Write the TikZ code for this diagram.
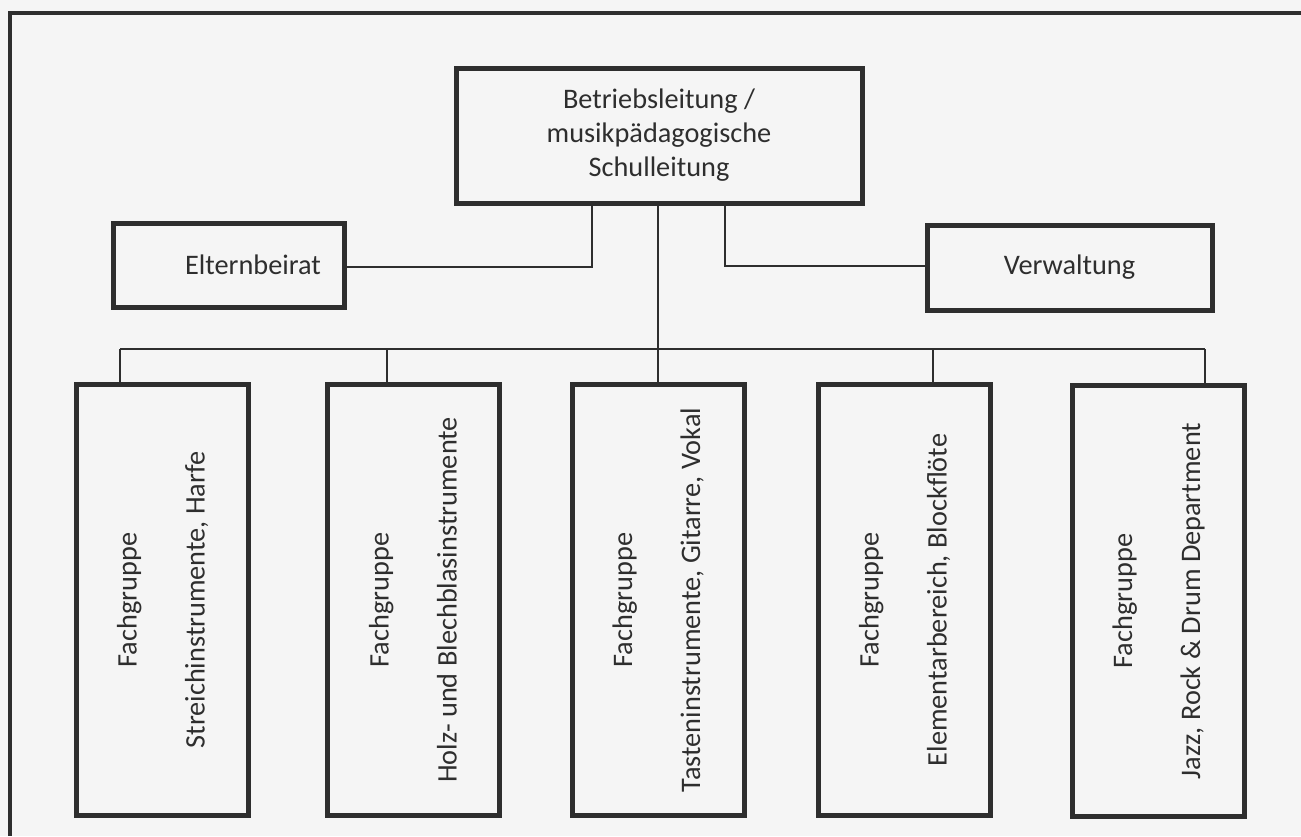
\documentclass[tikz,border=0pt]{standalone}
\usepackage{fontspec}
\setmainfont{Carlito}
\definecolor{ink}{HTML}{2E2E2E}
\definecolor{paper}{HTML}{F5F5F5}
\begin{document}
\begin{tikzpicture}[x=1pt,y=1pt,
  box/.style={draw=ink, line width=5pt, rectangle, inner sep=0pt, text=ink,
    font=\fontsize{28.3}{34}\selectfont, align=center},
  vbox/.style={box, rotate=90, minimum width=431pt, minimum height=172pt},
  conn/.style={draw=ink, line width=2pt}]
\fill[paper] (0,0) rectangle (1301,-836);
\useasboundingbox (0,0) rectangle (1301,-836);
% frame (cropped)
\coordinate (fTR) at (1301,-13);
\coordinate (fTL) at (10,-13);
\coordinate (fBL) at (10,-836);
\draw[draw=ink, line width=4.5pt] (fTR) -- (fTL) -- (fBL);
% top box
\node[box, minimum width=406pt, minimum height=135pt] (top) at (659,-135.5)
  {Betriebsleitung /\\musikpädagogische\\Schulleitung};
% side boxes
\node[box, minimum width=231pt, minimum height=84pt] (elt) at (228.5,-265) {};
\node[text=ink, font=\fontsize{28.3}{34}\selectfont, inner sep=0pt] (eltT) at (253,-265) {Elternbeirat};
\node[box, minimum width=285pt, minimum height=85pt] (verw) at (1069.5,-267.5) {Verwaltung};
% connectors to side boxes
\coordinate (kl) at (592,-267);
\coordinate (kr) at (725,-266);
\draw[conn] (kl |- top.south) -- (kl) -- (kl -| elt.east);
\draw[conn] (kr |- top.south) -- (kr) -- (kr -| verw.west);
% bus
\coordinate (d1) at (120,-349);
\coordinate (d2) at (387,-349);
\coordinate (d3) at (658,-349);
\coordinate (d4) at (933,-349);
\coordinate (d5) at (1205,-349);
\draw[conn] (d3 |- top.south) -- (d3);
\draw[conn] (d1) -- (d5);
% bottom boxes
\node[vbox] (b1) at (162.5,-600) {Fachgruppe\\[34pt]Streichinstrumente, Harfe};
\node[vbox] (b2) at (413,-600) {Fachgruppe\\[34pt]Holz- und Blechblasinstrumente};
\node[vbox] (b3) at (658,-600) {Fachgruppe\\[34pt]Tasteninstrumente, Gitarre, Vokal};
\node[vbox] (b4) at (904.5,-600) {Fachgruppe\\[34pt]Elementarbereich, Blockflöte};
\node[vbox] (b5) at (1158.5,-601) {Fachgruppe\\[34pt]Jazz, Rock \& Drum Department};
\draw[conn] (d1) -- (d1 |- b1.east);
\draw[conn] (d2) -- (d2 |- b2.east);
\draw[conn] (d3) -- (d3 |- b3.east);
\draw[conn] (d4) -- (d4 |- b4.east);
\draw[conn] (d5) -- (d5 |- b5.east);
\end{tikzpicture}
\end{document}
